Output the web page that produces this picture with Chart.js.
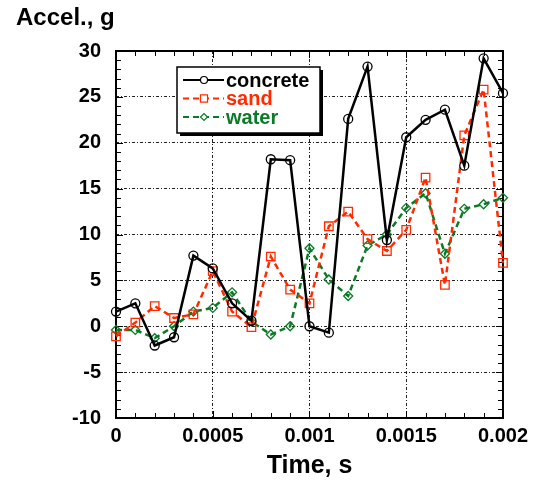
<!DOCTYPE html>
<html>
<head>
<meta charset="utf-8">
<title>Accel vs Time</title>
<script src="https://cdn.jsdelivr.net/npm/chart.js@4"></script>
<style>
  body { margin: 0; background: #fff; }
  #wrap { width: 534px; height: 481px; }
</style>
</head>
<body>
<div id="wrap"><canvas id="canvas_accel" width="534" height="481"></canvas></div>
<script>
// data
var timeValues = [0, 0.0001, 0.0002, 0.0003, 0.0004, 0.0005, 0.0006, 0.0007, 0.0008, 0.0009, 0.001,
                  0.0011, 0.0012, 0.0013, 0.0014, 0.0015, 0.0016, 0.0017, 0.0018, 0.0019, 0.002];
var concrete = [1.6, 2.5, -2.1, -1.2, 7.7, 6.3, 2.5, 0.6, 18.2, 18.1, 0.0,
                -0.7, 22.6, 28.3, 9.4, 20.6, 22.5, 23.6, 17.5, 29.2, 25.4];
var sand = [-1.1, 0.4, 2.2, 0.9, 1.3, 6.0, 1.6, -0.1, 7.6, 4.0, 2.5,
            10.9, 12.5, 9.5, 8.2, 10.5, 16.2, 4.5, 20.8, 25.8, 6.9];
var water = [-0.4, -0.4, -1.3, 0.0, 1.6, 2.0, 3.7, 0.5, -0.9, 0.0, 8.5,
             5.1, 3.3, 8.8, 10.0, 12.9, 14.5, 7.9, 12.8, 13.3, 14.0];
var xTickLabels = ['0', '0.0005', '0.001', '0.0015', '0.002'];
var seriesNames = ['concrete', 'sand', 'water'];

var RED = '#ff2a00';
var GREEN = '#0b7a26';

function toPoints(ys) {
  return ys.map(function(y, i) { return { x: timeValues[i], y: y }; });
}

Chart.defaults.font.family = '"Liberation Sans", Arial, sans-serif';
Chart.defaults.font.weight = 'bold';
Chart.defaults.color = '#000';

// frame, minor ticks, y title, legend box
var framePlugin = {
  id: 'frame',
  beforeDatasetsDraw: function(chart) {
    var ctx = chart.ctx;
    var a = chart.chartArea;
    var xs = chart.scales.x, ys = chart.scales.y;
    ctx.save();
    ctx.strokeStyle = '#000';
    ctx.lineWidth = 1;
    var i, p, len;
    for (i = 0; i <= 20; i++) {
      p = Math.round(xs.getPixelForValue(i * 0.0001)) + 0.5;
      len = (i % 5 === 0) ? 7 : 5;
      ctx.beginPath();
      ctx.moveTo(p, a.bottom); ctx.lineTo(p, a.bottom - len);
      ctx.moveTo(p, a.top); ctx.lineTo(p, a.top + len);
      ctx.stroke();
    }
    for (i = -10; i <= 30; i++) {
      p = Math.round(ys.getPixelForValue(i)) + 0.5;
      len = (i % 5 === 0) ? 7 : 5;
      ctx.beginPath();
      ctx.moveTo(a.left, p); ctx.lineTo(a.left + len, p);
      ctx.moveTo(a.right, p); ctx.lineTo(a.right - len, p);
      ctx.stroke();
    }
    ctx.lineWidth = 2;
    ctx.strokeRect(a.left, a.top, a.right - a.left, a.bottom - a.top);

    // y axis title at top left
    ctx.font = 'bold 24px "Liberation Sans", Arial, sans-serif';
    ctx.fillStyle = '#000';
    ctx.textBaseline = 'alphabetic';
    ctx.textAlign = 'left';
    ctx.fillText('Accel., g', 16, 25);
    ctx.restore();
  },
  afterDraw: function(chart) {
    var ctx = chart.ctx;
    ctx.save();
    // legend box
    var bx = 177, by = 67, bw = 143, bh = 66;
    ctx.fillStyle = '#000';
    ctx.fillRect(bx + 3, by + 3, bw, bh);
    ctx.fillStyle = '#fff';
    ctx.fillRect(bx, by, bw, bh);
    ctx.lineWidth = 1.5;
    ctx.strokeStyle = '#000';
    ctx.strokeRect(bx, by, bw, bh);

    ctx.font = 'bold 20px "Liberation Sans", Arial, sans-serif';
    ctx.textBaseline = 'middle';
    ctx.textAlign = 'left';
    chart.data.datasets.forEach(function(ds, k) {
      var ly = by + 13 + k * 18.5;
      ctx.save();
      ctx.strokeStyle = ds.borderColor;
      ctx.lineWidth = 2;
      ctx.setLineDash(ds.borderDash || []);
      ctx.beginPath();
      ctx.moveTo(bx + 6, ly); ctx.lineTo(bx + 47, ly);
      ctx.stroke();
      ctx.setLineDash([]);
      ctx.lineWidth = 1.2;
      Chart.helpers.drawPoint(ctx, {
        pointStyle: ds.pointStyle, radius: ds.pointRadius - 1, borderWidth: 1.2
      }, bx + 27, ly);
      ctx.fillStyle = ds.borderColor;
      ctx.fillText(seriesNames[k], bx + 49, ly + 1);
      ctx.restore();
    });
    ctx.restore();
  }
};

function createConfig() {
  return {
    type: 'line',
    data: {
      datasets: [{
        label: seriesNames[0],
        data: toPoints(concrete),
        borderColor: '#000',
        borderWidth: 2.5,
        pointStyle: 'circle',
        pointRadius: 4.5,
        pointBorderWidth: 1.3,
        pointBackgroundColor: 'rgba(0,0,0,0)',
        pointBorderColor: '#000',
        fill: false,
        clip: false,
        tension: 0
      }, {
        label: seriesNames[1],
        data: toPoints(sand),
        borderColor: RED,
        borderWidth: 2.5,
        borderDash: [6, 4],
        pointStyle: 'rect',
        pointRadius: 6,
        pointBorderWidth: 1.3,
        pointBackgroundColor: 'rgba(0,0,0,0)',
        pointBorderColor: RED,
        fill: false,
        clip: false,
        tension: 0
      }, {
        label: seriesNames[2],
        data: toPoints(water),
        borderColor: GREEN,
        borderWidth: 2.5,
        borderDash: [6, 4],
        pointStyle: 'rectRot',
        pointRadius: 4.5,
        pointBorderWidth: 1.3,
        pointBackgroundColor: 'rgba(0,0,0,0)',
        pointBorderColor: GREEN,
        fill: false,
        clip: false,
        tension: 0
      }]
    },
    options: {
      responsive: false,
      animation: false,
      layout: { padding: { top: 51, right: 30, left: 0, bottom: 0 } },
      plugins: {
        legend: { display: false },
        tooltip: { enabled: false }
      },
      scales: {
        x: {
          type: 'linear',
          min: 0,
          max: 0.002,
          afterFit: function(scale) { scale.height = 63; },
          ticks: {
            stepSize: 0.0005,
            padding: 6,
            maxRotation: 0,
            font: { size: 20, weight: 'bold' },
            callback: function(v, i) { return xTickLabels[i]; }
          },
          grid: { color: '#222', lineWidth: 1, drawTicks: false },
          border: { display: false, dash: [3, 2, 1, 2] },
          title: {
            display: true,
            text: 'Time, s',
            font: { size: 25, weight: 'bold' },
            padding: { top: 8, bottom: 0 }
          }
        },
        y: {
          min: -10,
          max: 30,
          afterFit: function(scale) { scale.width = 116; },
          ticks: {
            stepSize: 5,
            padding: 15,
            font: { size: 20, weight: 'bold' }
          },
          grid: { color: '#222', lineWidth: 1, drawTicks: false },
          border: { display: false, dash: [3, 2, 1, 2] }
        }
      }
    },
    plugins: [framePlugin]
  };
}

var ctx = document.getElementById('canvas_accel').getContext('2d');
var chart_obj = new Chart(ctx, createConfig());
</script>
</body>
</html>
